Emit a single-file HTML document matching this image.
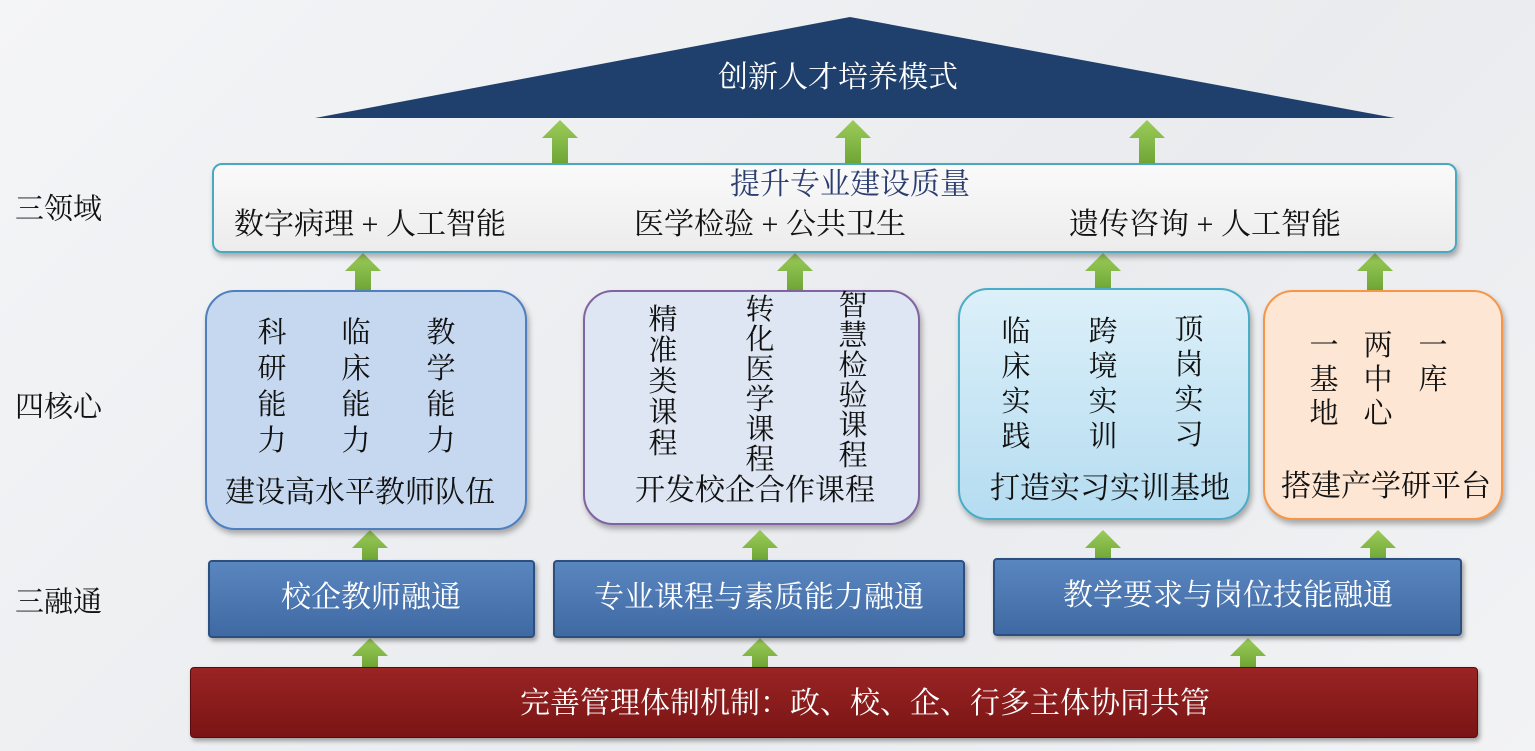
<!DOCTYPE html>
<html><head><meta charset="utf-8"><style>
*{margin:0;padding:0;box-sizing:border-box}
body{width:1535px;height:751px;overflow:hidden;background:linear-gradient(135deg,#f4f5f7,#e9ebee 60%,#f2f3f5);position:relative;font-family:"Liberation Serif","Noto Serif CJK SC",serif;color:#111}
.a{position:absolute}
.t{position:absolute;white-space:nowrap;transform:translate(-50%,-50%);font-size:30px;line-height:1}
.col{position:absolute;transform:translateX(-50%);font-size:29px;width:32px;text-align:center}
.box{position:absolute;border-radius:30px;border:2.5px solid;box-shadow:2px 4px 6px rgba(0,0,0,.3)}
.bar{position:absolute;background:linear-gradient(#5a86c0,#3f69a3);border:2px solid #2c4f7f;border-radius:4px;box-shadow:2px 3px 5px rgba(0,0,0,.35)}
.lbl{position:absolute;font-size:29px;transform:translateY(-50%);left:15px}
</style></head><body>
<svg class="a" style="left:0;top:0" width="1535" height="751">
<defs><linearGradient id="g" x1="0" x2="0" y1="0" y2="1"><stop offset="0" stop-color="#9ccc5a"/><stop offset="1" stop-color="#6fa636"/></linearGradient></defs>
<polygon points="315,118 850,17 1395,118" fill="#1f406c"/>
<g id="arr"></g>
</svg>
<script>
var A=[[560,120,163],[853,120,163],[1147,120,163],[363,253,290],[795,253,290],[1103,253,290],[1375,253,290],[370,530,560],[760,530,560],[1103,530,560],[1378,530,560],[370,638,667],[760,638,667],[1248,638,667]];
var s='';A.forEach(function(a){var x=a[0],t=a[1],b=a[2];s+='<polygon fill="url(#g)" points="'+(x-18)+','+(t+18)+' '+x+','+t+' '+(x+18)+','+(t+18)+' '+(x+8)+','+(t+18)+' '+(x+8)+','+b+' '+(x-8)+','+b+' '+(x-8)+','+(t+18)+'"/>';});
document.getElementById('arr').outerHTML=s;
</script>
<div class="t" style="left:838px;top:78px;color:#fff">创新人才培养模式</div>
<div class="a" style="left:212px;top:163px;width:1245px;height:90px;background:linear-gradient(#fafafa,#ececec);border:2.5px solid #4aa8c0;border-radius:10px;box-shadow:2px 4px 6px rgba(0,0,0,.3)"></div>
<div class="t" style="left:850px;top:185px;color:#2c3e70">提升专业建设质量</div>
<div class="t" style="left:370px;top:225px">数字病理 + 人工智能</div>
<div class="t" style="left:770px;top:225px">医学检验 + 公共卫生</div>
<div class="t" style="left:1205px;top:225px">遗传咨询 + 人工智能</div>
<div class="lbl" style="top:207px">三领域</div>
<div class="lbl" style="top:405px">四核心</div>
<div class="lbl" style="top:600px">三融通</div>

<div class="box" style="left:205px;top:290px;width:322px;height:240px;background:#c6d8f0;border-color:#4f7fbf"></div>
<div class="box" style="left:583px;top:290px;width:337px;height:235px;background:#dde6f2;border-color:#8064a2"></div>
<div class="box" style="left:958px;top:288px;width:292px;height:232px;background:linear-gradient(#dcf0f9,#b5dcf1);border-color:#4aacc6"></div>
<div class="box" style="left:1263px;top:290px;width:240px;height:230px;background:#fde6d3;border-color:#f79646"></div>

<div class="col" style="left:272px;top:315px;line-height:36px">科<br>研<br>能<br>力</div>
<div class="col" style="left:356px;top:315px;line-height:36px">临<br>床<br>能<br>力</div>
<div class="col" style="left:441px;top:315px;line-height:36px">教<br>学<br>能<br>力</div>
<div class="col" style="left:663px;top:305px;line-height:31px">精<br>准<br>类<br>课<br>程</div>
<div class="col" style="left:760px;top:295px;line-height:30px">转<br>化<br>医<br>学<br>课<br>程</div>
<div class="col" style="left:853px;top:291px;line-height:30px">智<br>慧<br>检<br>验<br>课<br>程</div>
<div class="col" style="left:1016px;top:315px;line-height:35px">临<br>床<br>实<br>践</div>
<div class="col" style="left:1103px;top:315px;line-height:35px">跨<br>境<br>实<br>训</div>
<div class="col" style="left:1189px;top:313px;line-height:35px">顶<br>岗<br>实<br>习</div>
<div class="col" style="left:1324px;top:329px;line-height:34px">一<br>基<br>地</div>
<div class="col" style="left:1378px;top:329px;line-height:34px">两<br>中<br>心</div>
<div class="col" style="left:1433px;top:329px;line-height:34px">一<br>库</div>
<div class="t" style="left:360px;top:493px">建设高水平教师队伍</div>
<div class="t" style="left:755px;top:491px">开发校企合作课程</div>
<div class="t" style="left:1110px;top:489px">打造实习实训基地</div>
<div class="t" style="left:1386px;top:487px">搭建产学研平台</div>

<div class="bar" style="left:208px;top:560px;width:327px;height:78px"></div>
<div class="bar" style="left:553px;top:560px;width:412px;height:78px"></div>
<div class="bar" style="left:993px;top:558px;width:469px;height:78px"></div>
<div class="t" style="left:371px;top:598px;color:#fff">校企教师融通</div>
<div class="t" style="left:759px;top:598px;color:#fff">专业课程与素质能力融通</div>
<div class="t" style="left:1228px;top:596px;color:#fff">教学要求与岗位技能融通</div>

<div class="a" style="left:190px;top:667px;width:1288px;height:71px;background:linear-gradient(#9a2424,#7a1414);border:1px solid #5a0c0c;border-radius:4px;box-shadow:2px 3px 5px rgba(0,0,0,.35)"></div>
<div class="t" style="left:865px;top:704px;color:#fff">完善管理体制机制：政、校、企、行多主体协同共管</div>
</body></html>
